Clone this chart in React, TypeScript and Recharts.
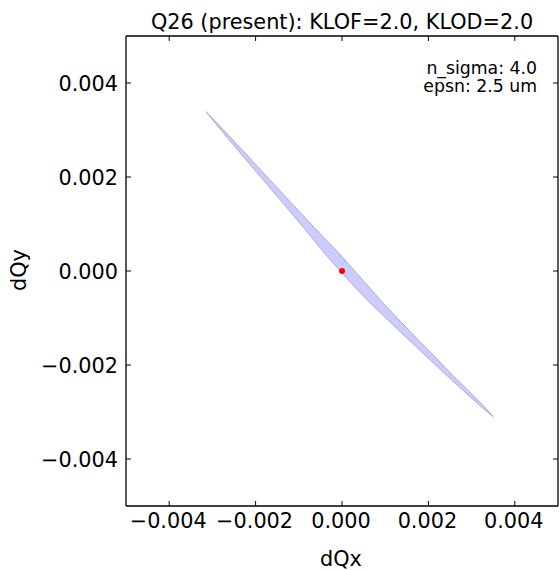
import React from 'react';
import { ScatterChart, Scatter, XAxis, YAxis, Customized } from 'recharts';

// Footprint outline (dQx, dQy), traced around the filled region:
// top tip, right/lower edge downwards, bottom tip, left/upper edge upwards
const polyX = [
  -0.003148, -0.002561, -0.001845, -0.001131, -0.000405, -0.000034, 0.000295, 0.000648, 0.00099, 0.00173, 0.002483, 0.003258,
  0.003502, 0.003177, 0.002332, 0.00151, 0.0007, 0.000324, -0.000041, -0.000369, -0.000683, -0.001328, -0.001984, -0.002642,
];
const polyY = [
  0.003389, 0.002823, 0.002113, 0.001404, 0.000696, 0.00034, 0.0, -0.000368, -0.000723, -0.001432, -0.002143, -0.002851,
  -0.0031, -0.002851, -0.002143, -0.001432, -0.000723, -0.000368, 0.0, 0.00034, 0.000696, 0.001404, 0.002113, 0.002823,
];
// Nominal working point
const centerX = [0];
const centerY = [0];

const xTicks = [-0.004, -0.002, 0, 0.002, 0.004];
const yTicks = [-0.004, -0.002, 0, 0.002, 0.004];
const axisDomain = [-0.005, 0.005];

const titleText = 'Q26 (present): KLOF=2.0, KLOD=2.0';
const infoLines = ['n_sigma: 4.0', 'epsn: 2.5 um'];
const xLabel = 'dQx';
const yLabel = 'dQy';

const FONT = 'DejaVu Sans, sans-serif';
const BIG = 20.8;
const SMALL = 17.3;

const polyData = polyX.map((x, i) => ({ x, y: polyY[i] }));
const polyClosed = [...polyData, polyData[0]];
const centerData = centerX.map((x, i) => ({ x, y: centerY[i] }));

const fmt = (v: number) => {
  const s = Math.abs(v).toFixed(3);
  return v < -1e-12 ? '\u2212' + s : s;
};

const BottomTick = (props: any) => {
  const { x, y, payload } = props;
  return (
    <g>
      <line x1={x} y1={y} x2={x} y2={y - 5} stroke="#000" strokeWidth={1} />
      <text x={x - 1} y={y + 21.5} textAnchor="middle" fontSize={BIG} fontFamily={FONT} fill="#000">
        {fmt(payload.value)}
      </text>
    </g>
  );
};

const LeftTick = (props: any) => {
  const { x, y, payload } = props;
  return (
    <g>
      <line x1={x} y1={y} x2={x + 5} y2={y} stroke="#000" strokeWidth={1} />
      <text x={x - 8} y={y + 7.5} textAnchor="end" fontSize={BIG} fontFamily={FONT} fill="#000">
        {fmt(payload.value)}
      </text>
    </g>
  );
};

const TopTick = (props: any) => {
  const { x, y } = props;
  return <line x1={x} y1={y} x2={x} y2={y + 5} stroke="#000" strokeWidth={1} />;
};

const RightTick = (props: any) => {
  const { x, y } = props;
  return <line x1={x} y1={y} x2={x - 5} y2={y} stroke="#000" strokeWidth={1} />;
};

const TextLayer = () => (
  <g fontFamily={FONT} fill="#000">
    <text x={342} y={29} textAnchor="middle" fontSize={BIG}>
      {titleText}
    </text>
    {infoLines.map((t, i) => (
      <text key={t} x={537} y={73.5 + i * 18.2} textAnchor="end" fontSize={SMALL}>
        {t}
      </text>
    ))}
    <text x={341} y={566} textAnchor="middle" fontSize={BIG}>
      {xLabel}
    </text>
    <text x={26} y={270} textAnchor="middle" fontSize={BIG} transform="rotate(-90, 26, 270)">
      {yLabel}
    </text>
  </g>
);

export default function App() {
  return (
    <div style={{ position: 'absolute', left: 0, top: 0, background: '#fff' }}>
      <ScatterChart width={559} height={571} margin={{ top: 35, right: 0, bottom: 0, left: 0 }}>
        <XAxis
          dataKey="x"
          type="number"
          domain={axisDomain}
          ticks={xTicks}
          allowDataOverflow
          height={65}
          tickSize={0}
          tickMargin={0}
          tickLine={false}
          axisLine={{ stroke: '#000', strokeWidth: 1.3 }}
          tick={BottomTick}
        />
        <YAxis
          dataKey="y"
          type="number"
          domain={axisDomain}
          ticks={yTicks}
          allowDataOverflow
          width={126}
          tickSize={0}
          tickMargin={0}
          tickLine={false}
          axisLine={{ stroke: '#000', strokeWidth: 1.3 }}
          tick={LeftTick}
        />
        <XAxis
          xAxisId="top"
          orientation="top"
          dataKey="x"
          type="number"
          domain={axisDomain}
          ticks={xTicks}
          allowDataOverflow
          height={1}
          tickSize={0}
          tickMargin={0}
          tickLine={false}
          axisLine={{ stroke: '#000', strokeWidth: 1.3 }}
          tick={TopTick}
        />
        <YAxis
          yAxisId="right"
          orientation="right"
          dataKey="y"
          type="number"
          domain={axisDomain}
          ticks={yTicks}
          allowDataOverflow
          width={1}
          tickSize={0}
          tickMargin={0}
          tickLine={false}
          axisLine={{ stroke: '#000', strokeWidth: 1.3 }}
          tick={RightTick}
        />
        <Scatter
          data={polyClosed}
          isAnimationActive={false}
          fill="#ccccff"
          line={{ fill: '#ccccff', stroke: '#a4a4c8', strokeWidth: 0.9 }}
          lineType="joint"
          shape={() => <g />}
        />
        <Scatter
          data={centerData}
          isAnimationActive={false}
          fill="#ff0000"
          shape={(p: any) => <circle cx={p.cx} cy={p.cy} r={3} fill="#ff0000" />}
        />
        <Customized component={TextLayer} />
      </ScatterChart>
    </div>
  );
}
